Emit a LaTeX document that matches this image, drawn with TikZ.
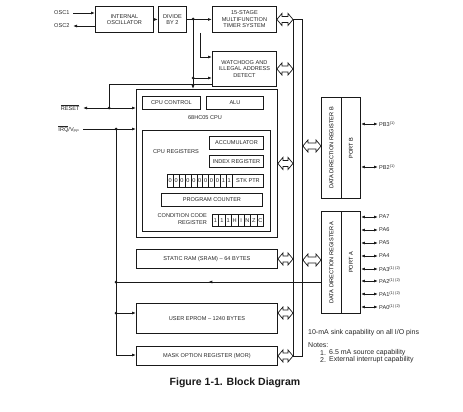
\documentclass[tikz,border=0pt]{standalone}
\usepackage{fontspec}
\setmainfont{Liberation Sans}
\usetikzlibrary{arrows.meta,calc,decorations.markings}
\newcommand{\mybusarr}[2]{%
  \draw[busar] let \p1=#1, \p2=#2 in
   (\x1,\y1) -- (\x1+5pt,\y1+6pt) -- (\x1+5pt,\y1+3pt) -- (\x2-5pt,\y1+3pt) -- (\x2-5pt,\y1+6pt) -- (\x2,\y1) -- (\x2-5pt,\y1-6pt) -- (\x2-5pt,\y1-3pt) -- (\x1+5pt,\y1-3pt) -- (\x1+5pt,\y1-6pt) -- cycle;}
\begin{document}
\begin{tikzpicture}[x=1pt,y=-1pt,
  txt/.style={text=black!85, font=\fontsize{5.6}{6.4}\selectfont},
  blk/.style={draw=black!90, line width=0.9pt, txt, inner sep=0pt, align=center, anchor=north west},
  cell/.style={blk, line width=0.6pt, minimum height=13pt},
  wire/.style={draw=black!90, line width=0.8pt},
  arr/.style={wire, -{Latex[length=4pt,width=3pt]}},
  darr/.style={wire, {Latex[length=4pt,width=3pt]}-{Latex[length=4pt,width=3pt]}},
  jdot/.style={circle, fill=black!90, inner sep=0pt, minimum size=3pt},
  busar/.style={draw=black!90, line width=0.7pt, fill=white},
  note/.style={text=black!85, font=\fontsize{7}{8}\selectfont, inner sep=0pt, anchor=west},
  pin/.style={txt, anchor=west, inner sep=1pt},
]
\useasboundingbox (0,0) rectangle (463,412);

% blocks
\node[blk, minimum width=58pt, minimum height=26pt] (osc) at (95,6) {INTERNAL\\OSCILLATOR};
\node[blk, minimum width=28pt, minimum height=26pt] (div) at (158,6) {DIVIDE\\BY 2};
\node[blk, minimum width=64pt, minimum height=26pt] (timer) at (212,6) {15-STAGE\\MULTIFUNCTION\\TIMER SYSTEM};
\node[blk, minimum width=64pt, minimum height=35pt] (wdog) at (212,51) {WATCHDOG AND\\ILLEGAL ADDRESS\\DETECT};
\node[blk, minimum width=141pt, minimum height=148pt] (cpu) at (136,89) {};
\node[blk, minimum width=58pt, minimum height=13pt] (cpuctl) at (142,96) {CPU CONTROL};
\node[blk, minimum width=57pt, minimum height=13pt] (alu) at (206,96) {ALU};
\node[txt] (cpulbl) at (205,118) {68HC05 CPU};
\node[blk, minimum width=128pt, minimum height=101pt] (regs) at (142,130) {};
\node[txt] (reglbl) at (176,152) {CPU REGISTERS};
\node[blk, minimum width=54pt, minimum height=13pt] (acc) at (209,136) {ACCUMULATOR};
\node[blk, minimum width=54pt, minimum height=12pt] (idx) at (209,155) {INDEX REGISTER};
\foreach \b [count=\i from 0] in {0,0,0,0,0,0,0,0,0,1,1}
  \node[cell, minimum width=5.9pt] (sp\i) at ({167+5.9*\i},174) {\b};
\node[blk, minimum width=31pt, minimum height=13pt] (stk) at (232,174) {STK PTR};
\node[blk, minimum width=101pt, minimum height=13pt] (pc) at (161,193) {PROGRAM COUNTER};
\node[txt, align=right, anchor=east, inner sep=0pt] (ccrlbl) at (207,219) {CONDITION CODE\\REGISTER};
\foreach \b [count=\i from 0] in {1,1,1,H,I,N,Z,C}
  \node[cell, minimum width=6.4pt, minimum height=12pt] (cc\i) at ({212+6.4*\i},214) {\b};
\node[blk, minimum width=141pt, minimum height=19pt] (sram) at (136,249) {STATIC RAM (SRAM) -- 64 BYTES};
\node[blk, minimum width=141pt, minimum height=30pt] (eprom) at (136,303) {USER EPROM -- 1240 BYTES};
\node[blk, minimum width=141pt, minimum height=19pt] (mor) at (136,346) {MASK OPTION REGISTER (MOR)};

% bus
\node[draw=black!90, line width=0.9pt, minimum width=9pt, minimum height=337pt, inner sep=0pt, anchor=north west] (bus) at (293,19) {};

% ports
\node[blk, minimum width=20pt, minimum height=101pt] (ddrb) at (321,97) {};
\node[blk, minimum width=19pt, minimum height=101pt] (portb) at (341,97) {};
\node[txt, text=black, rotate=90] at (ddrb.center) {DATA DIRECTION REGISTER B};
\node[txt, text=black, rotate=90] at (portb.center) {PORT B};
\node[blk, minimum width=20pt, minimum height=102pt] (ddra) at (321,211) {};
\node[blk, minimum width=19pt, minimum height=102pt] (porta) at (341,211) {};
\node[txt, text=black, rotate=90] at (ddra.center) {DATA DIRECTION REGISTER A};
\node[txt, text=black, rotate=90] at (porta.center) {PORT A};

% bus arrows
\mybusarr{(timer.east)}{(timer.east -| bus.west)}
\mybusarr{(wdog.east)}{(wdog.east -| bus.west)}
\mybusarr{(cpu.east)}{(cpu.east -| bus.west)}
\mybusarr{(sram.east)}{(sram.east -| bus.west)}
\mybusarr{(eprom.east |- 0,313)}{(bus.west |- 0,313)}
\mybusarr{(mor.east)}{(mor.east -| bus.west)}
\mybusarr{(bus.east |- 0,146)}{(ddrb.west |- 0,146)}
\mybusarr{(bus.east |- 0,260)}{(ddra.west |- 0,260)}

% clock wiring
\node[txt, anchor=east] (osc1) at (73,13) {OSC1};
\node[txt, anchor=east] (osc2) at (73,26) {OSC2};
\draw[arr] (osc1.east) -- (osc1.east -| osc.west);
\draw[arr] (osc2.east -| osc.west) -- (osc2.east);
\draw[arr] (osc) -- (div);
\coordinate (j1) at (193,19);
\coordinate (j2) at (193,78);
\coordinate (t1) at (200,57);
\draw[arr] (div.east) -- (timer.west);
\draw[arr] (j1) -- (j1 |- cpu.north);
\draw[arr] (j2) -- (j2 -| wdog.west);
\draw[arr] (timer.south -| t1) -- (t1) -- (t1 -| wdog.west);
\node[jdot] at (j1) {};
\node[jdot] at (j2) {};

% reset / irq
\coordinate (w1) at (109,84);
\coordinate (rj) at (109,108);
\node[txt, anchor=east] (reset) at (83,108) {\(\overline{\hbox{RESET}}\)};
\node[txt, anchor=east] (irq) at (83,129) {\(\overline{\hbox{IRQ}}\)/V\textsubscript{PP}};
\draw[wire] (w1 -| wdog.west) -- (w1) -- (rj);
\draw[darr] (reset.east) -- (reset.east -| cpu.west);
\node[jdot] at (rj) {};
\coordinate (ij) at (116,129);
\coordinate (ipa) at (116,282);
\coordinate (ie) at (116,313);
\coordinate (ib) at (116,355);
\draw[arr] (irq.east) -- (irq.east -| cpu.west);
\draw[wire] (ij) -- (ib);
\draw[arr] (ib) -- (ib -| mor.west);
\draw[arr] (ie) -- (ie -| eprom.west);
\draw[wire, postaction={decorate}, decoration={markings, mark=at position 0.55 with {\arrow{Latex[length=4pt,width=3pt]}}}] (ddra.west |- ipa) -- (ipa);
\node[jdot] at (ij) {};
\node[jdot] at (ipa) {};
\node[jdot] at (ie) {};

% port B pins
\coordinate (pb3) at (378,124);
\coordinate (pb2) at (378,167);
\draw[darr] (portb.east |- pb3) -- (pb3);
\draw[darr] (portb.east |- pb2) -- (pb2);
\node[pin] at (pb3) {PB3\textsuperscript{(1)}};
\node[pin] at (pb2) {PB2\textsuperscript{(1)}};

% port A pins
\foreach \n/\yy/\s in {PA7/217/, PA6/230/, PA5/243/, PA4/256/, PA3/269/{\textsuperscript{(1) (2)}}, PA2/281/{\textsuperscript{(1) (2)}}, PA1/294/{\textsuperscript{(1) (2)}}, PA0/307/{\textsuperscript{(1) (2)}}} {
  \coordinate (p\n) at (378,\yy);
  \draw[darr] (porta.east |- p\n) -- (p\n);
  \node[pin] at (p\n) {\n\s};
}

% notes
\node[note] (n0) at (308,333) {10-mA sink capability on all I/O pins};
\node[note] (n1) at (308,345) {Notes:};
\node[note] (n2) at (320,353) {1.};
\node[note] (n2t) at (329,353) {6.5 mA source capability};
\node[note] (n3) at (320,360) {2.};
\node[note] (n3t) at (329,360) {External interrupt capability};

% caption
\node[text=black!90, font=\bfseries\fontsize{10.5}{12}\selectfont] (cap) at (235,383) {Figure 1-1. Block Diagram};
\end{tikzpicture}
\end{document}
